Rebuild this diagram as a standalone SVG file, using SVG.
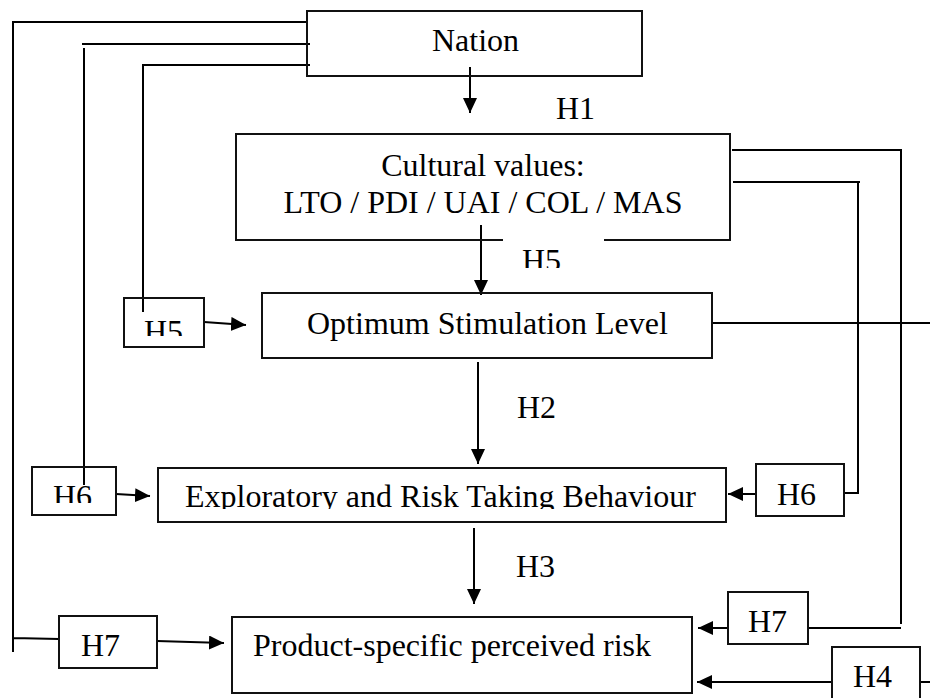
<svg xmlns="http://www.w3.org/2000/svg" width="930" height="698" viewBox="0 0 930 698">
  <style>
    .box { fill: none; stroke: #111; stroke-width: 2; }
    .wire { fill: none; stroke: #000; stroke-width: 2; }
    .lbl { font-family: "Liberation Serif", "Times New Roman", serif; font-size: 32px; fill: #000; }
  </style>
  <defs>
    <marker id="arrow" markerUnits="userSpaceOnUse" markerWidth="16" markerHeight="16" refX="15" refY="7" orient="auto">
      <path d="M0,0 L15,7 L0,14 z" fill="#000"/>
    </marker>
    <!-- label areas that are cut off at the bottom -->
    <clipPath id="clipH5mid"><rect x="500" y="230" width="100" height="38"/></clipPath>
    <clipPath id="clipH5left"><rect x="124" y="298" width="80" height="38"/></clipPath>
    <clipPath id="clipH6left"><rect x="32" y="467" width="84" height="36"/></clipPath>
    <clipPath id="clipExpl"><rect x="158" y="468" width="568" height="41"/></clipPath>
  </defs>

  <!-- connectors -->
  <g id="connectors">
    <path class="wire" d="M307,22 H13 V652 M13,638 L59,639"/>
    <path class="wire" d="M310,44 H82 M84,48 V485"/>
    <path class="wire" d="M310,65 H143 V312"/>
    <path class="wire" d="M470,67 V113" marker-end="url(#arrow)"/>
    <path class="wire" d="M481,225 V295" marker-end="url(#arrow)"/>
    <path class="wire" d="M204,322 L246,325" marker-end="url(#arrow)"/>
    <path class="wire" d="M712,323 H930"/>
    <path class="wire" d="M732,150 H902 M901,150 V624 M901,628 H808"/>
    <path class="wire" d="M733,182 H860 M858,182 V493 H844"/>
    <path class="wire" d="M478,362 V464" marker-end="url(#arrow)"/>
    <path class="wire" d="M116,494 L150,496" marker-end="url(#arrow)"/>
    <path class="wire" d="M756,494 H728" marker-end="url(#arrow)"/>
    <path class="wire" d="M474,528 V604" marker-end="url(#arrow)"/>
    <path class="wire" d="M157,641 L224,643" marker-end="url(#arrow)"/>
    <path class="wire" d="M728,628 H698" marker-end="url(#arrow)"/>
    <path class="wire" d="M832,682 H697" marker-end="url(#arrow)"/>
    <path class="wire" d="M920,682 H930"/>
  </g>

  <!-- free-standing path labels -->
  <g id="label-h1"><text class="lbl" x="556" y="119">H1</text></g>
  <g id="label-h5" clip-path="url(#clipH5mid)"><text class="lbl" x="522" y="271">H5</text></g>
  <g id="label-h2"><text class="lbl" x="517" y="418">H2</text></g>
  <g id="label-h3"><text class="lbl" x="516" y="577">H3</text></g>

  <g id="nation">
    <rect class="box" x="307" y="11" width="335" height="65"/>
    <text class="lbl" x="432" y="51">Nation</text>
  </g>

  <g id="cultural-values">
    <path class="box" d="M503,240 H236 V134 H730 V240 H604"/>
    <text class="lbl" x="483" y="176" text-anchor="middle">Cultural values:</text>
    <text class="lbl" x="483" y="213" text-anchor="middle">LTO / PDI / UAI / COL / MAS</text>
  </g>

  <g id="osl">
    <rect class="box" x="262" y="293" width="450" height="65"/>
    <text class="lbl" x="307" y="334">Optimum Stimulation Level</text>
  </g>

  <g id="h5-box">
    <rect class="box" x="124" y="298" width="80" height="49"/>
    <g clip-path="url(#clipH5left)"><text class="lbl" x="144" y="342">H5</text></g>
  </g>

  <g id="exploratory">
    <rect class="box" x="158" y="468" width="568" height="54"/>
    <g clip-path="url(#clipExpl)"><text class="lbl" x="185" y="507">Exploratory and Risk Taking Behaviour</text></g>
  </g>

  <g id="h6-left">
    <rect class="box" x="32" y="467" width="84" height="48"/>
    <g clip-path="url(#clipH6left)"><text class="lbl" x="53" y="507">H6</text></g>
  </g>

  <g id="h6-right">
    <rect class="box" x="756" y="464" width="88" height="52"/>
    <text class="lbl" x="777" y="505">H6</text>
  </g>

  <g id="product-risk">
    <rect class="box" x="232" y="617" width="460" height="76"/>
    <text class="lbl" x="253" y="656">Product-specific perceived risk</text>
  </g>

  <g id="h7-left">
    <rect class="box" x="59" y="616" width="98" height="52"/>
    <text class="lbl" x="81" y="656">H7</text>
  </g>

  <g id="h7-right">
    <rect class="box" x="728" y="592" width="80" height="52"/>
    <text class="lbl" x="748" y="632">H7</text>
  </g>

  <g id="h4">
    <rect class="box" x="832" y="647" width="88" height="60"/>
    <text class="lbl" x="853" y="687">H4</text>
  </g>
</svg>
